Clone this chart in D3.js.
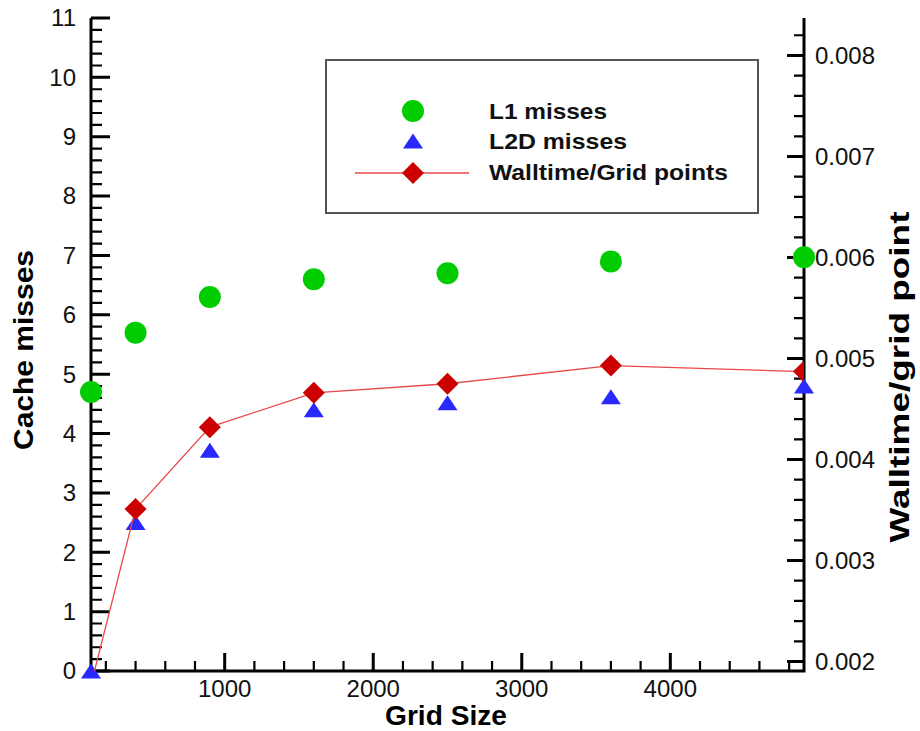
<!DOCTYPE html>
<html>
<head>
<meta charset="utf-8">
<script src="https://cdn.jsdelivr.net/npm/d3@7"></script>
<style>
  html, body { margin: 0; padding: 0; background: #fff; }
  svg { display: block; }
  text { font-family: "Liberation Sans", Arial, sans-serif; }
</style>
</head>
<body>
<svg id="chart" width="920" height="731"></svg>
<script>
// ---- data ----
const gridSizes = [100, 400, 900, 1600, 2500, 3600, 4900];
const l1Misses = [4.7, 5.7, 6.3, 6.6, 6.7, 6.9, 6.97];
const l2dMisses = [0, 2.5, 3.72, 4.4, 4.52, 4.62, 4.8];
const walltime = [0.00177, 0.00351, 0.00432, 0.00466, 0.00475, 0.00493, 0.00487];

const xTicks = [1000, 2000, 3000, 4000];
const leftTicks = [0, 1, 2, 3, 4, 5, 6, 7, 8, 9, 10, 11];
const rightTicks = [0.002, 0.003, 0.004, 0.005, 0.006, 0.007, 0.008];
const legendLabels = ["L1 misses", "L2D misses", "Walltime/Grid points"];

// ---- layout ----
const svg = d3.select("#chart");
const X0 = 91, X1 = 804, Y0 = 671, Y1 = 18;

const x = d3.scaleLinear().domain([100, 4900]).range([X0, X1]);
const yL = d3.scaleLinear().domain([0, 11]).range([Y0, Y1]);
const yR = d3.scaleLinear().domain([0.001906, 0.008371]).range([Y0, Y1]);

const green = "#00cc00", blue = "#2828ff", red = "#cc0000", lineRed = "#e84848";

// minor tick values
const xMinor = d3.range(1, 25).map(i => i * 200).filter(v => v % 1000 !== 0);
const leftMinor = d3.range(1, 55).map(i => i * 0.2).filter(v => Math.abs(v - Math.round(v)) > 1e-6);
const rightMinor = d3.range(10, 42).map(i => i * 0.0002).filter(v => Math.round(v * 10000) % 10 !== 0);

// axis lines
svg.append("path").attr("d", `M${X0},${Y1}L${X0},${Y0}L${X1},${Y0}L${X1},${Y1}`)
  .attr("fill", "none").attr("stroke", "#000").attr("stroke-width", 3);

// ticks (inside the frame)
const minorP = d3.path();
xMinor.forEach(d => { minorP.moveTo(x(d), Y0); minorP.lineTo(x(d), Y0 - 10); });
leftMinor.forEach(d => { minorP.moveTo(X0, yL(d)); minorP.lineTo(X0 + 11, yL(d)); });
rightMinor.forEach(d => { minorP.moveTo(X1, yR(d)); minorP.lineTo(X1 - 10, yR(d)); });
svg.append("path").attr("d", minorP.toString()).attr("fill", "none")
  .attr("stroke", "#000").attr("stroke-width", 2.2);

const majorP = d3.path();
xTicks.forEach(d => { majorP.moveTo(x(d), Y0); majorP.lineTo(x(d), Y0 - 18); });
leftTicks.forEach(d => { majorP.moveTo(X0, yL(d)); majorP.lineTo(X0 + 19, yL(d)); });
rightTicks.forEach(d => { majorP.moveTo(X1, yR(d)); majorP.lineTo(X1 - 17, yR(d)); });
svg.append("path").attr("d", majorP.toString()).attr("fill", "none")
  .attr("stroke", "#000").attr("stroke-width", 3);

// tick labels
const fmtR = d3.format(".3f");
const labG = svg.append("g").attr("font-size", 24).attr("fill", "#111");
labG.selectAll(".xl").data(xTicks).join("text").attr("class", "xl")
  .attr("x", d => x(d)).attr("y", 697).attr("text-anchor", "middle").text(d3.format("d"));
labG.selectAll(".ll").data(leftTicks).join("text").attr("class", "ll")
  .attr("x", X0 - 15).attr("y", d => yL(d)).attr("dy", "0.35em").attr("text-anchor", "end").text(d => d);
labG.selectAll(".rl").data(rightTicks).join("text").attr("class", "rl")
  .attr("x", X1 + 11).attr("y", d => yR(d)).attr("dy", "0.35em").attr("text-anchor", "start").text(fmtR);

// axis titles
svg.append("text").attr("x", 446).attr("y", 725).attr("text-anchor", "middle")
  .attr("font-size", 28).attr("font-weight", "bold")
  .attr("textLength", 122).attr("lengthAdjust", "spacingAndGlyphs").text("Grid Size");
svg.append("text").attr("transform", "translate(33,350) rotate(-90)").attr("text-anchor", "middle")
  .attr("font-size", 27).attr("font-weight", "bold")
  .attr("textLength", 200).attr("lengthAdjust", "spacingAndGlyphs").text("Cache misses");
svg.append("text").attr("transform", "translate(909,377) rotate(-90)").attr("text-anchor", "middle")
  .attr("font-size", 27).attr("font-weight", "bold")
  .attr("textLength", 331).attr("lengthAdjust", "spacingAndGlyphs").text("Walltime/grid point");

// clip for the walltime series
svg.append("clipPath").attr("id", "lineclip").append("rect")
  .attr("x", X0).attr("y", Y1).attr("width", X1 - X0).attr("height", Y0 - Y1);

const triPath = "M0,-7.5L10,7.5L-10,7.5Z";
const diaPath = "M0,-11L11,0L0,11L-11,0Z";

// L1 circles
svg.append("g").selectAll("circle").data(gridSizes).join("circle")
  .attr("cx", d => x(d)).attr("cy", (d, i) => yL(l1Misses[i])).attr("r", 11).attr("fill", green);
// L2D triangles
svg.append("g").selectAll("path").data(gridSizes).join("path")
  .attr("transform", (d, i) => `translate(${x(d)},${yL(l2dMisses[i])})`).attr("d", triPath).attr("fill", blue);
// Walltime line + diamonds
const line = d3.line().x((d, i) => x(gridSizes[i])).y(d => yR(d));
svg.append("path").datum(walltime).attr("clip-path", "url(#lineclip)")
  .attr("d", line).attr("fill", "none").attr("stroke", lineRed).attr("stroke-width", 1.3);
svg.append("g").attr("clip-path", "url(#lineclip)").selectAll("path").data(gridSizes).join("path")
  .attr("transform", (d, i) => `translate(${x(d)},${yR(walltime[i])})`).attr("d", diaPath).attr("fill", red);

// legend
const lg = svg.append("g");
lg.append("rect").attr("x", 326).attr("y", 60).attr("width", 432).attr("height", 153)
  .attr("fill", "#fff").attr("stroke", "#555").attr("stroke-width", 2);
lg.append("circle").attr("cx", 413).attr("cy", 111).attr("r", 11).attr("fill", green);
lg.append("path").attr("transform", "translate(413,141)").attr("d", triPath).attr("fill", blue);
lg.append("line").attr("x1", 355).attr("x2", 469).attr("y1", 173).attr("y2", 173)
  .attr("stroke", lineRed).attr("stroke-width", 1.3);
lg.append("path").attr("transform", "translate(413,173)").attr("d", diaPath).attr("fill", red);
const legY = [119, 149, 180];
const legW = [118, 138, 239];
legendLabels.forEach((t, i) => {
  lg.append("text").attr("x", 489).attr("y", legY[i]).attr("font-size", 22).attr("font-weight", "bold")
    .attr("fill", "#111").attr("textLength", legW[i]).attr("lengthAdjust", "spacingAndGlyphs").text(t);
});
</script>
</body>
</html>
